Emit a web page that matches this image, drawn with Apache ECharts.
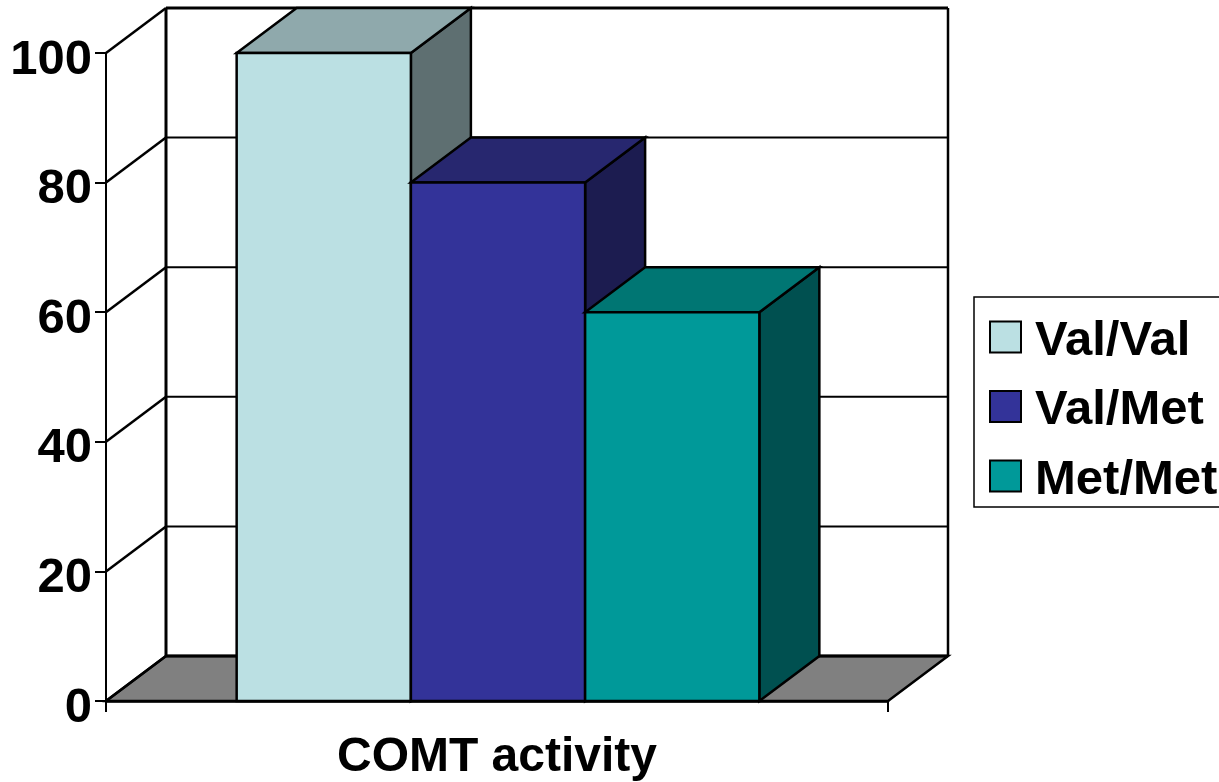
<!DOCTYPE html>
<html><head><meta charset="utf-8">
<style>html,body{margin:0;padding:0;background:#fff;overflow:hidden}#c{width:1219px;height:782px}</style>
<script src="https://cdn.jsdelivr.net/npm/echarts@6/dist/echarts.min.js"></script>
</head><body><div id="c"></div>
<script>
const categories = ['COMT activity'];
const seriesNames = ['Val/Val', 'Val/Met', 'Met/Met'];
const valVal = [100];
const valMet = [80];
const metMet = [60];
const seriesValues = [valVal, valMet, metMet];
const yTicks = [0, 20, 40, 60, 80, 100];
const frontColors = ['#BBE0E3', '#333399', '#009999'];
const topColors = ['#8FA9AC', '#27276F', '#007673'];
const sideColors = ['#5E6F71', '#1C1C50', '#005050'];
const floorColor = '#808080';
const DX = 60, DY = -45;
const BAR_FRACTION = 0.2228;
const FONT = '"Liberation Sans", Arial, sans-serif';
const chart = echarts.init(document.getElementById('c'), null, {renderer: 'canvas'});

function line(p, q, w) {
  return {type: 'line', shape: {x1: p[0], y1: p[1], x2: q[0], y2: q[1]},
          style: {stroke: '#000', lineWidth: w, fill: null}};
}
function poly(points, fill) {
  return {type: 'polygon', shape: {points}, style: {fill, stroke: '#000', lineWidth: 2.5, lineJoin: 'miter'}};
}
function renderWall(params, api) {
  const tick = api.value(1);
  const band = api.size([1, 0])[0];
  const cx = api.coord([0, tick])[0];
  const xl = cx - band / 2, xr = cx + band / 2;
  const y = api.coord([0, tick])[1];
  const kids = [];
  if (tick === yTicks[0]) {
    kids.push(poly([[xl, y], [xr, y], [xr + DX, y + DY], [xl + DX, y + DY]], floorColor));
  }
  if (tick === yTicks[yTicks.length - 1]) {
    const y0 = api.coord([0, yTicks[0]])[1];
    kids.push(line([xl + DX, y + DY], [xl + DX, y0 + DY], 3));
    kids.push(line([xr + DX, y + DY], [xr + DX, y0 + DY], 2.5));
  }
  kids.push(line([xl + DX, y + DY], [xr + DX, y + DY], tick === yTicks[yTicks.length - 1] || tick === 0 ? 3 : 2));
  kids.push(line([xl, y], [xl + DX, y + DY], 2.5));
  return {type: 'group', children: kids};
}
function renderBar(slot) {
  return function (params, api) {
    const band = api.size([1, 0])[0];
    const w = band * BAR_FRACTION;
    const c = api.coord([api.value(0), api.value(1)]);
    const y0 = api.coord([api.value(0), 0])[1];
    const l = c[0] + (slot - 1.5) * w + 1, r = l + w, t = c[1];
    return {type: 'group', children: [
      poly([[r, t], [r + DX, t + DY], [r + DX, y0 + DY], [r, y0]], sideColors[slot]),
      poly([[l, t], [r, t], [r + DX, t + DY], [l + DX, t + DY]], topColors[slot]),
      poly([[l, t], [r, t], [r, y0], [l, y0]], frontColors[slot])
    ]};
  };
}
const barSeries = seriesNames.map((name, i) => ({
  name, type: 'custom', clip: false, z: 3 + i,
  itemStyle: {color: frontColors[i]},
  encode: {x: 0, y: 1},
  data: seriesValues[i].map((v, k) => [k, v]),
  renderItem: renderBar(i)
}));
chart.setOption({
  animation: false,
  backgroundColor: '#fff',
  grid: {left: 106, top: 53, width: 782, height: 649, containLabel: false},
  xAxis: {
    type: 'category', data: categories,
    axisLine: {show: true, onZero: false, lineStyle: {color: '#000', width: 2.5}},
    axisTick: {show: true, length: 11, lineStyle: {color: '#000', width: 2}},
    axisLabel: {color: '#000', fontFamily: FONT, fontWeight: 'bold', fontSize: 48, margin: 33}
  },
  yAxis: {
    type: 'value', min: 0, max: 100, interval: 20,
    splitLine: {show: false},
    axisLine: {show: true, lineStyle: {color: '#000', width: 2}},
    axisTick: {show: true, length: 11, lineStyle: {color: '#000', width: 2}},
    axisLabel: {color: '#000', fontFamily: FONT, fontWeight: 'bold', fontSize: 49, margin: 14, verticalAlign: 'top', lineHeight: 14},
    data: yTicks
  },
  legend: {
    left: 974, top: 297, orient: 'vertical', icon: 'rect',
    itemWidth: 31, itemHeight: 31, itemGap: 12.5,
    padding: [11.5, 30, 2.5, 15],
    borderColor: '#000', borderWidth: 1.5,
    selectedMode: false,
    formatter: name => '{a|' + name + '}',
    textStyle: {
      color: '#000', fontFamily: FONT, fontWeight: 'bold', fontSize: 49,
      rich: {a: {color: '#000', fontFamily: FONT, fontWeight: 'bold', fontSize: 49, lineHeight: 48, padding: [8, 0, 0, 9]}}
    },
    data: seriesNames.map((name, i) => ({name, itemStyle: {color: frontColors[i], borderColor: '#000', borderWidth: 2}}))
  },
  series: [{
    name: 'wall', type: 'custom', clip: false, z: 1, silent: true,
    encode: {x: 0, y: 1},
    data: yTicks.map(t => [0, t]),
    renderItem: renderWall
  }].concat(barSeries)
});
</script></body></html>
